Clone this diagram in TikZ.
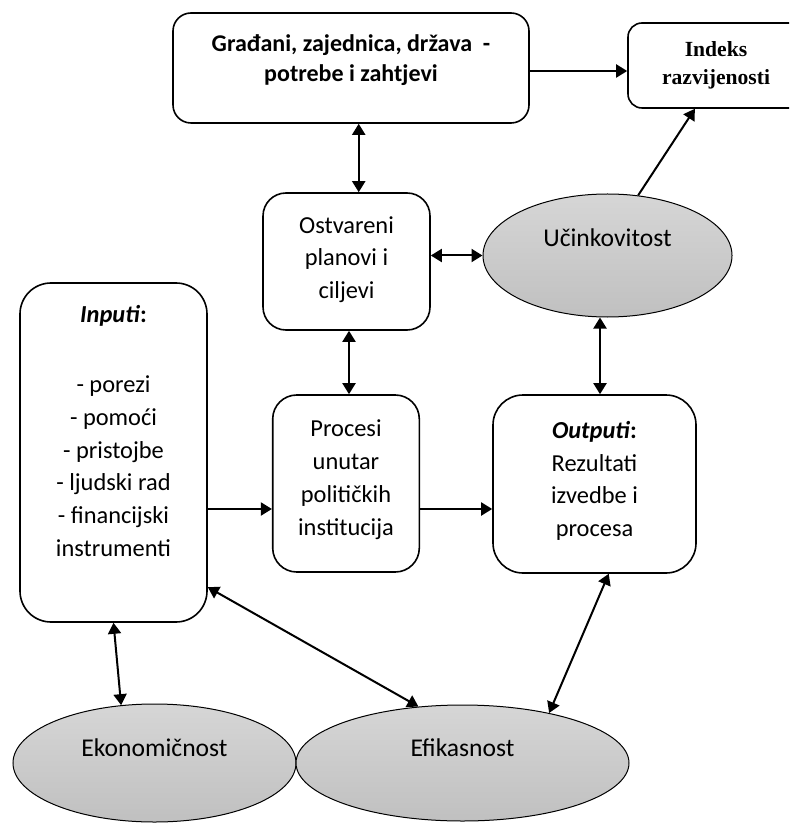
\documentclass[tikz,border=0pt]{standalone}
\usepackage{fontspec}
\setmainfont{Carlito}
\newfontfamily\timesfont{Liberation Serif}
\usetikzlibrary{shapes.geometric,arrows.meta}
\definecolor{elltop}{RGB}{214,214,214}
\definecolor{ellbot}{RGB}{192,192,192}

\begin{document}
\begin{tikzpicture}[x=0.5pt,y=-0.5pt,
	box/.style={draw,line width=0.8pt,align=center,inner sep=0pt,font=\fontsize{12.2}{16.4}\selectfont},
	oval/.style={ellipse,draw,line width=0.5pt,top color=elltop,bottom color=ellbot,align=center,inner sep=0pt,font=\fontsize{12.8}{15}\selectfont},
	arr/.style={line width=1pt,-{Triangle[length=5.5pt,width=6.5pt]}},
	dbl/.style={line width=1pt,{Triangle[length=5.5pt,width=6.5pt]}-{Triangle[length=5.5pt,width=6.5pt]}}]
	\path[use as bounding box,clip] (0,0) rectangle (789,823);
	% boxes
	\node[box,rounded corners=9pt,minimum width=178pt,minimum height=55pt,font=\bfseries\fontsize{12}{15}\selectfont] (grad) at (351,68) {Građani, zajednica, država~~-\\potrebe i zahtjevi\\[-5pt]};
	\node[box,rounded corners=7pt,minimum width=88pt,minimum height=42.5pt,font=\timesfont\bfseries\fontsize{10.8}{14}\selectfont] (indeks) at (716,65.5) {Indeks\\razvijenosti};
	\node[box,rounded corners=11.5pt,minimum width=83.5pt,minimum height=68.5pt] (ost) at (346.5,261.5) {Ostvareni\\planovi i\\ciljevi\\[-12.4pt]};
	\node[box,rounded corners=15.5pt,minimum width=93.5pt,minimum height=169.5pt] (inp) at (113.5,452.5) {\textbf{\textit{Inputi}:}\\[18.5pt]- porezi\\- pomoći\\- pristojbe\\- ljudski rad\\- financijski\\instrumenti\\[5.1pt]};
	\node[box,rounded corners=12pt,minimum width=73.3pt,minimum height=88.5pt] (proc) at (346,483.5) {Procesi\\unutar\\političkih\\institucija\\[-10.4pt]};
	\node[box,rounded corners=15pt,minimum width=101.5pt,minimum height=89pt] (out) at (594.5,484) {\textbf{\textit{Outputi}:}\\Rezultati\\izvedbe i\\procesa\\[-11.4pt]};
	% ellipses
	\node[oval,minimum width=124.5pt,minimum height=61.5pt] (uc) at (607.5,255.5) {Učinkovitost\\[3pt]};
	\node[oval,minimum width=141.5pt,minimum height=59pt] (ekon) at (154.5,763) {Ekonomičnost\\};
	\node[oval,minimum width=166.5pt,minimum height=58pt] (efik) at (462.5,763) {Efikasnost\\};
	% connectors
	\draw[arr] ([yshift=-1.5pt]grad.east) -- ([yshift=-1.5pt]grad.east -| indeks.west);
	\draw[dbl] (grad.south -| ost.80.5) -- (ost.80.5);
	\draw[dbl] ([xshift=1.25pt]ost.south) -- ([xshift=1.25pt]ost.south |- proc.north);
	\draw[dbl] (uc.west -| ost.east) -- (uc.west);
	\draw[arr] (uc.63) -- (indeks.-116.3);
	\draw[dbl] ([xshift=2.75pt]out.north |- uc.south) -- ([xshift=2.75pt]out.north);
	\draw[arr] ([yshift=-12.75pt]proc.west -| inp.east) -- ([yshift=-12.75pt]proc.west);
	\draw[arr] ([yshift=-12.75pt]proc.east) -- ([yshift=-12.75pt]proc.east -| out.west);
	\draw[dbl] (inp.south) -- (ekon.120);
	\draw[dbl] (inp.-55.3) -- (efik.128.5);
	\draw[dbl] (out.-81.4) -- (efik.30);
\end{tikzpicture}
\end{document}
